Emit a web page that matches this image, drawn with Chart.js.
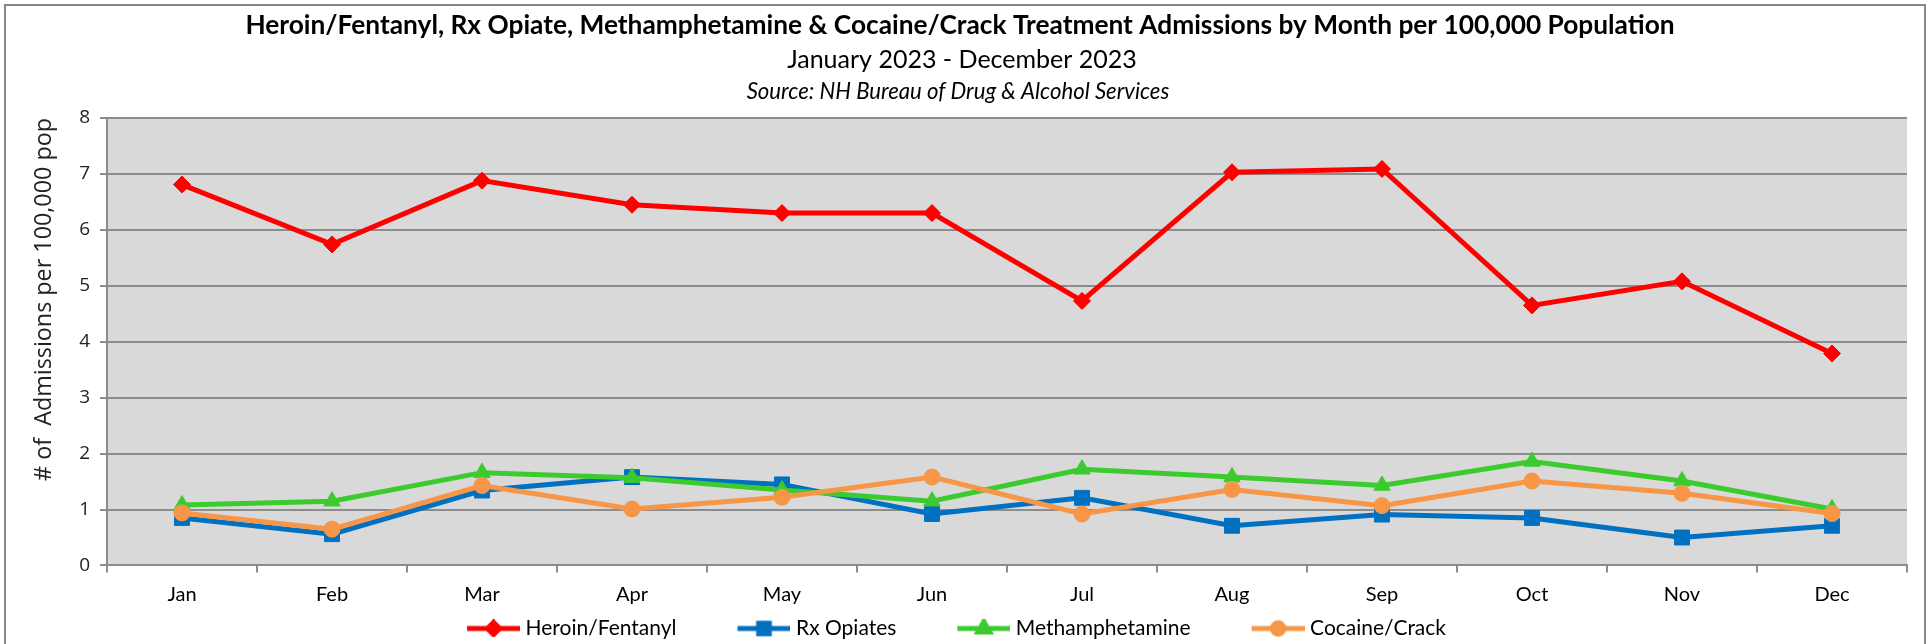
<!DOCTYPE html>
<html>
<head>
<meta charset="utf-8">
<script src="https://cdn.jsdelivr.net/npm/chart.js@4.4.0/dist/chart.umd.min.js"></script>
<style>
html,body{margin:0;padding:0;background:#fff;}
#wrap{width:1931px;height:644px;position:relative;overflow:hidden;}
</style>
</head>
<body>
<div id="wrap"><canvas id="c" width="1931" height="644"></canvas></div>
<script>
// ---- data ----
const months = ['Jan','Feb','Mar','Apr','May','Jun','Jul','Aug','Sep','Oct','Nov','Dec'];
const heroinFentanyl  = [6.81, 5.74, 6.88, 6.45, 6.30, 6.30, 4.73, 7.03, 7.09, 4.65, 5.08, 3.79];
const rxOpiates       = [0.85, 0.56, 1.34, 1.58, 1.45, 0.92, 1.21, 0.71, 0.91, 0.85, 0.50, 0.71];
const methamphetamine = [1.08, 1.15, 1.66, 1.57, 1.35, 1.15, 1.72, 1.58, 1.43, 1.86, 1.51, 1.01];
const cocaineCrack    = [0.94, 0.65, 1.43, 1.01, 1.22, 1.58, 0.92, 1.36, 1.07, 1.51, 1.29, 0.93];
const seriesNames = ['Heroin/Fentanyl','Rx Opiates','Methamphetamine','Cocaine/Crack'];
const yMin = 0, yMax = 8, yStep = 1;

const TITLE = 'Heroin/Fentanyl, Rx Opiate, Methamphetamine & Cocaine/Crack Treatment Admissions by Month per 100,000 Population';
const SUBTITLE = 'January 2023 - December 2023';
const SOURCE = 'Source: NH Bureau of Drug & Alcohol Services';
const YTITLE = '# of  Admissions per 100,000 pop';

// ---- styles ----
const colors = ['#FF0000', '#0070C0', '#3CCB2E', '#F79646'];
const styles = ['rectRot', 'rect', 'triangle', 'circle'];
const radii = [8.5, 10.5, 9.5, 8];
const orders = [1, 4, 3, 2];
const FONT_T = 'Lato';
const FONT_Y = '"Open Sans"';
const GRID = '#8c8c8c';

const mctx = document.createElement('canvas').getContext('2d');
function fitSize(text, style, family, target) {
  mctx.font = style + ' 100px ' + family;
  return 100 * target / mctx.measureText(text).width;
}
const szTitle = fitSize(TITLE, 'bold', FONT_T, 1430);
const szSub = fitSize(SUBTITLE, 'normal', FONT_T, 350);
const szSrc = fitSize(SOURCE, 'italic', FONT_T, 423);
const szLeg = fitSize(seriesNames[0], 'normal', FONT_T, 151);
const szYT = fitSize(YTITLE, 'normal', FONT_Y, 363);

const LEG_DX = -25, LEG_DY = -7.5;

function legendImg(i) {
  const cv = document.createElement('canvas');
  cv.width = 109; cv.height = 18;
  const c = cv.getContext('2d');
  c.strokeStyle = colors[i]; c.fillStyle = colors[i];
  c.lineWidth = 5;
  c.beginPath(); c.moveTo(56, 9); c.lineTo(109, 9); c.stroke();
  Chart.helpers.drawPoint(c, {pointStyle: styles[i], radius: radii[i] * 0.72, rotation: 0, borderWidth: 1}, 82.5, 9);
  return cv;
}

const framePlugin = {
  id: 'frame',
  afterLayout(chart) {
    const l = chart.legend;
    if (l) { l.left += LEG_DX; l.right += LEG_DX; l.top += LEG_DY; l.bottom += LEG_DY; }
  },
  beforeDraw(chart) {
    const {ctx, chartArea: a} = chart;
    ctx.save();
    ctx.fillStyle = '#D9D9D9';
    ctx.fillRect(a.left, a.top, a.right - a.left, a.bottom - a.top);
    ctx.strokeStyle = '#868686'; ctx.lineWidth = 2;
    ctx.beginPath(); ctx.moveTo(5, 660); ctx.lineTo(5, 5); ctx.lineTo(1925, 5); ctx.lineTo(1925, 660); ctx.stroke();
    ctx.fillStyle = '#000'; ctx.textAlign = 'center'; ctx.textBaseline = 'middle';
    ctx.font = 'bold ' + szTitle + 'px ' + FONT_T; ctx.fillText(TITLE, 960, 26);
    ctx.font = 'normal ' + szSub + 'px ' + FONT_T; ctx.fillText(SUBTITLE, 962, 60);
    ctx.font = 'italic ' + szSrc + 'px ' + FONT_T; ctx.fillText(SOURCE, 958, 92);
    ctx.restore();
  }
};

const dataArrays = [heroinFentanyl, rxOpiates, methamphetamine, cocaineCrack];
const datasets = dataArrays.map((d, i) => ({
  label: seriesNames[i],
  data: d,
  borderColor: colors[i],
  backgroundColor: colors[i],
  borderWidth: 5,
  tension: 0,
  pointStyle: styles[i],
  pointRadius: radii[i],
  pointHoverRadius: radii[i],
  pointBackgroundColor: colors[i],
  pointBorderColor: colors[i],
  pointBorderWidth: 1,
  order: orders[i]
}));

new Chart(document.getElementById('c'), {
  type: 'line',
  data: {labels: months, datasets},
  plugins: [framePlugin],
  options: {
    responsive: false,
    animation: false,
    devicePixelRatio: 1,
    layout: {padding: {left: 5, right: 24, top: 118, bottom: -12.5}},
    plugins: {
      title: {display: false},
      tooltip: {enabled: false},
      legend: {
        display: true,
        position: 'bottom',
        labels: {
          usePointStyle: true,
          pointStyleWidth: 99,
          boxHeight: 18,
          padding: 10,
          color: '#000',
          font: {family: FONT_T, size: szLeg},
          generateLabels: () => seriesNames.map((n, i) => ({
            text: n, pointStyle: legendImg(i), fillStyle: colors[i], strokeStyle: 'transparent',
            lineWidth: 0, hidden: false, datasetIndex: i, fontColor: '#000'
          }))
        }
      }
    },
    scales: {
      x: {
        type: 'category',
        offset: true,
        afterFit: (s) => { s.height = 50; },
        grid: {display: true, drawOnChartArea: false, drawTicks: true, tickLength: 7, color: GRID, lineWidth: 2, offset: true},
        border: {display: true, color: GRID, width: 2},
        ticks: {color: '#000', padding: 10, font: {family: FONT_T, size: 20}, maxRotation: 0}
      },
      y: {
        min: yMin, max: yMax,
        afterFit: (s) => { s.width = 102; },
        ticks: {stepSize: yStep, color: '#222', padding: 10, font: {family: FONT_Y, size: 19}},
        grid: {color: GRID, lineWidth: 2, tickLength: 7, drawTicks: true},
        border: {display: true, color: GRID, width: 2},
        title: {display: true, text: YTITLE, align: 'end', color: '#222', font: {family: FONT_Y, size: szYT}, padding: {top: 25, bottom: 0}}
      }
    }
  }
});
</script>
</body>
</html>
